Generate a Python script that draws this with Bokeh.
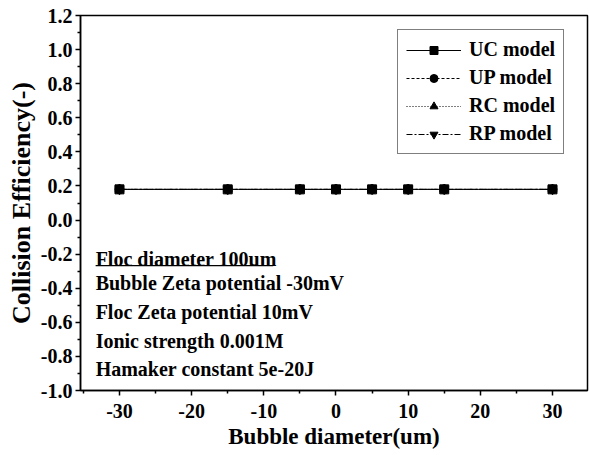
from bokeh.plotting import figure
from bokeh.models import (FixedTicker, Legend, LegendItem, Label, Range1d,
                          CustomJSTickFormatter)
from bokeh.embed import file_html
from bokeh.resources import INLINE

# ---- data ----
bubble_diameter = [-30, -15, -5, 0, 5, 10, 15, 30]
uc_model = [0.18, 0.18, 0.18, 0.18, 0.18, 0.18, 0.18, 0.18]
up_model = [0.18, 0.18, 0.18, 0.18, 0.18, 0.18, 0.18, 0.18]
rc_model = [0.18, 0.18, 0.18, 0.18, 0.18, 0.18, 0.18, 0.18]
rp_model = [0.18, 0.18, 0.18, 0.18, 0.18, 0.18, 0.18, 0.18]
series_names = ["UC model", "UP model", "RC model", "RP model"]
x_ticks = [-30, -20, -10, 0, 10, 20, 30]
x_minor = [-35, -25, -15, -5, 5, 15, 25]
y_ticks = [-1.0, -0.8, -0.6, -0.4, -0.2, 0.0, 0.2, 0.4, 0.6, 0.8, 1.0, 1.2]
y_minor = [-0.9, -0.7, -0.5, -0.3, -0.1, 0.1, 0.3, 0.5, 0.7, 0.9, 1.1]
notes = ["Floc diameter 100um", "Bubble Zeta potential -30mV",
         "Floc Zeta potential 10mV", "Ionic strength 0.001M",
         "Hamaker constant 5e-20J"]

FONT = "Liberation Serif"

p = figure(width=589, height=455, output_backend="svg", toolbar_location=None,
           x_range=Range1d(-35.4, 34.85), y_range=Range1d(-1.0, 1.2),
           min_border_left=80, min_border_right=2, min_border_top=15,
           min_border_bottom=65)
p.background_fill_color = "white"
p.border_fill_color = "white"
p.outline_line_color = "black"
p.outline_line_width = 1.5
p.xgrid.visible = False
p.ygrid.visible = False

p.xaxis.ticker = FixedTicker(ticks=x_ticks, minor_ticks=x_minor)
p.yaxis.ticker = FixedTicker(ticks=y_ticks, minor_ticks=y_minor)
p.xaxis.formatter = CustomJSTickFormatter(code="return tick.toFixed(0);")
p.yaxis.formatter = CustomJSTickFormatter(code="return tick.toFixed(1);")

for axs in (p.xaxis, p.yaxis):
    axs.axis_line_width = 1.5
    axs.axis_line_color = "black"
    axs.major_tick_line_width = 1.5
    axs.minor_tick_line_width = 1.5
    axs.major_tick_line_color = "black"
    axs.minor_tick_line_color = "black"
    axs.major_tick_out = 5
    axs.major_tick_in = 0
    axs.minor_tick_out = 3
    axs.minor_tick_in = 0
    axs.major_label_text_font = FONT
    axs.major_label_text_font_style = "bold"
    axs.major_label_text_font_size = "20px"
    axs.major_label_text_color = "black"
    axs.axis_label_text_font = FONT
    axs.axis_label_text_font_style = "bold"
    axs.axis_label_text_color = "black"

p.xaxis.axis_label = "Bubble diameter(um)"
p.xaxis.axis_label_text_font_size = "23px"
p.xaxis.major_label_standoff = 8
p.xaxis.axis_label_standoff = 3
p.yaxis.axis_label = "Collision Efficiency(-)"
p.yaxis.axis_label_text_font_size = "26px"
p.yaxis.major_label_standoff = 3
p.yaxis.axis_label_standoff = 2

styles = [
    (rp_model, "inverted_triangle", "6 2 2 2"),
    (rc_model, "triangle", "1 2"),
    (up_model, "circle", "3 2"),
    (uc_model, "square", "solid"),
]
renderers = {}
for vals, marker, dash in styles:
    ln = p.line(bubble_diameter, vals, line_color="black", line_width=1,
                line_dash=dash)
    sc = p.scatter(bubble_diameter, vals, marker=marker, size=9,
                   fill_color="black", line_color="black")
    renderers[marker] = [ln, sc]

items = [
    LegendItem(label=series_names[0], renderers=renderers["square"]),
    LegendItem(label=series_names[1], renderers=renderers["circle"]),
    LegendItem(label=series_names[2], renderers=renderers["triangle"]),
    LegendItem(label=series_names[3], renderers=renderers["inverted_triangle"]),
]
legend = Legend(items=items, location=(317, 236))
legend.label_text_font = FONT
legend.label_text_font_style = "bold"
legend.label_text_font_size = "20px"
legend.label_text_color = "black"
legend.glyph_width = 55
legend.glyph_height = 20
legend.label_height = 20
legend.spacing = 5
legend.padding = 8
legend.label_standoff = 8
legend.border_line_color = "black"
legend.border_line_width = 1
legend.background_fill_alpha = 1
legend.margin = 0
p.add_layout(legend, "center")

note_y = [-0.226, -0.372, -0.542, -0.707, -0.871]
for txt, yy in zip(notes, note_y):
    p.add_layout(Label(x=-33.3, y=yy, text=txt, text_font=FONT,
                       text_font_style="bold", text_font_size="20px",
                       text_color="black", text_baseline="middle"))
# underline for the first note
p.line([-33.3, -8.7], [-0.267, -0.267], line_color="black", line_width=1.2)

open("out.html", "w").write(file_html(p, INLINE))
